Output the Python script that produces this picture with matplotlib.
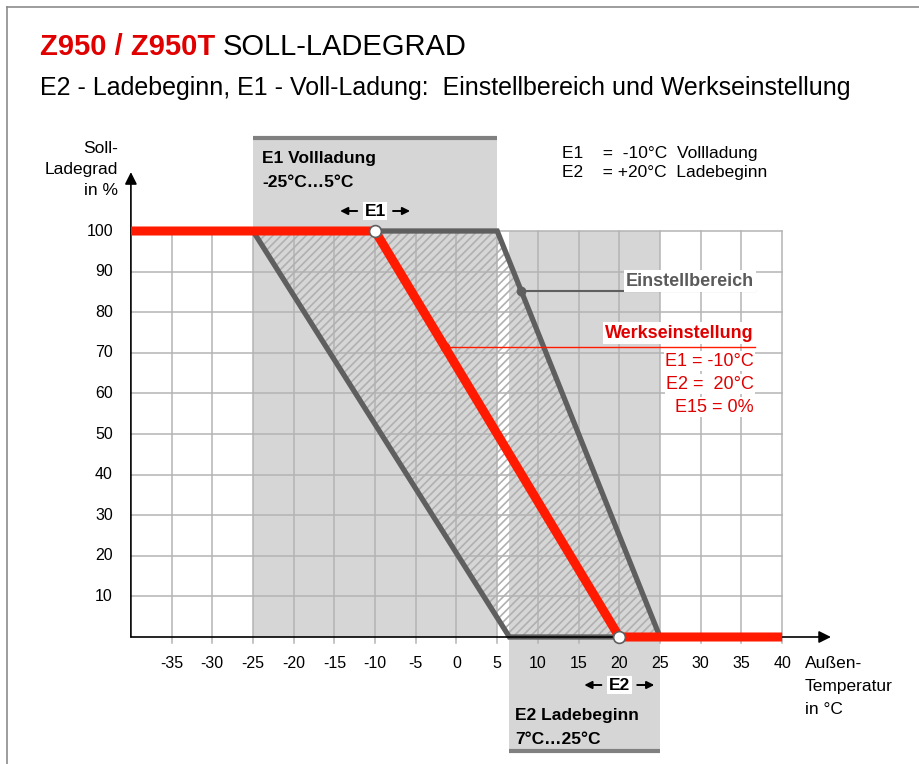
import matplotlib
matplotlib.use("Agg")
import matplotlib.pyplot as plt
from matplotlib.patches import Rectangle, Polygon

plt.rcParams['font.family'] = ['Liberation Sans', 'DejaVu Sans']
plt.rcParams['hatch.linewidth'] = 1.2

# ---- data ----
x_ticks = [-35, -30, -25, -20, -15, -10, -5, 0, 5, 10, 15, 20, 25, 30, 35, 40]
y_ticks = [10, 20, 30, 40, 50, 60, 70, 80, 90, 100]
werks_x = [-40, -10, 20, 40]
werks_y = [100, 100, 0, 0]
range_x = [-25, 5, 25, 6.5]
range_y = [100, 100, 0, 0]
e1_range = [-25, 5]
e2_range = [6.5, 25]
e1_set = -10
e2_set = 20
werks_dot_y = 71.4
einst_dot_y = 85.2

W, H = 920, 764
fig = plt.figure(figsize=(W / 100, H / 100), dpi=100)

# pixel mapping: px = 456.5 + 8.14*x ; py = 637 - 4.06*y
xmin, xmax = -40, 46
ymin, ymax = -31, 125
px0 = 456.5 + 8.14 * xmin
px1 = 456.5 + 8.14 * xmax
py_top = 637 - 4.06 * ymax
py_bot = 637 - 4.06 * ymin
ax = fig.add_axes([px0 / W, 1 - py_bot / H, (px1 - px0) / W, (py_bot - py_top) / H])
ax.set_xlim(xmin, xmax)
ax.set_ylim(ymin, ymax)
ax.axis('off')

GRAY_BG = '#d6d6d6'
DARK = '#5f5f5f'
RED = '#ff1a00'
TRED = '#e00000'
GRID = '#b4b4b4'
FS_TICK = 11.5
FS_LAB = 12.5
FS_B = 12.5

# frame lines of the slide
fig.add_artist(plt.Line2D([7 / W, 1], [1 - 7 / H, 1 - 7 / H], color='#8c8c8c', lw=1.2))
fig.add_artist(plt.Line2D([7 / W, 7 / W], [0, 1 - 7 / H], color='#8c8c8c', lw=1.2))

# gray setting bands
ax.add_patch(Rectangle((e1_range[0], 0), e1_range[1] - e1_range[0], 123, facecolor=GRAY_BG, edgecolor='none', zorder=0))
ax.add_patch(Rectangle((e2_range[0], -28), e2_range[1] - e2_range[0], 128, facecolor=GRAY_BG, edgecolor='none', zorder=0))
ax.plot(e1_range, [123, 123], color='#808080', lw=3, solid_capstyle='butt', zorder=1)
ax.plot(e2_range, [-28, -28], color='#808080', lw=3, solid_capstyle='butt', zorder=1)

# grid
for xv in x_ticks:
    ax.plot([xv, xv], [-1.5, 100], color=GRID, lw=1.1, zorder=1)
for yv in y_ticks:
    ax.plot([-42, 40], [yv, yv], color=GRID, lw=1.1, zorder=1)

# hatched setting range
ax.add_patch(Polygon(list(zip(range_x, range_y)), closed=True, facecolor='none',
                     edgecolor='#b0b0b0', hatch='////', lw=0, zorder=2))
ax.plot(range_x + [range_x[0]], range_y + [range_y[0]], color=DARK, lw=3.8,
        solid_joinstyle='miter', zorder=3)

# axes arrows
ax.annotate('', xy=(46, 0), xytext=(-40, 0),
            arrowprops=dict(arrowstyle='-|>', color='black', lw=1.2, mutation_scale=18,
                            shrinkA=0, shrinkB=0), zorder=4)
ax.annotate('', xy=(-40, 114.5), xytext=(-40, 0),
            arrowprops=dict(arrowstyle='-|>', color='black', lw=1.2, mutation_scale=18,
                            shrinkA=0, shrinkB=0), zorder=4)

# factory setting
ax.plot(werks_x, werks_y, color=RED, lw=6.5, solid_joinstyle='miter', solid_capstyle='butt', zorder=5)
ax.plot([e1_set, e2_set], [100, 0], 'o', ms=8.5, mfc='white', mec=DARK, mew=1.2, zorder=6)

# pointers
wx = e1_set + (100 - werks_dot_y) / 100 * (e2_set - e1_set)
ax.plot([wx, 36.7], [werks_dot_y, werks_dot_y], color=RED, lw=1.0, zorder=4)
ax.plot(wx, werks_dot_y, 'o', color=RED, ms=6, zorder=6)
gx = range_x[1] + (100 - einst_dot_y) / 100 * (range_x[2] - range_x[1])
ax.plot([gx, 36.7], [einst_dot_y, einst_dot_y], color=DARK, lw=1.5, zorder=4)
ax.plot(gx, einst_dot_y, 'o', color=DARK, ms=6, zorder=6)

# tick labels
for xv in x_ticks:
    ax.text(xv, -6.5, str(xv), ha='center', va='center', fontsize=FS_TICK)
for yv in y_ticks:
    ax.plot([-42, -40], [yv, yv], color=GRID, lw=1.1)
    ax.text(-42.2, yv, str(yv), ha='right', va='center', fontsize=FS_TICK)

def P(px, py):
    return (px - 456.5) / 8.14, (637 - py) / 4.06

# axis labels
for i, s in enumerate(['Soll-', 'Ladegrad', 'in %']):
    ax.text(*P(118, 148 + i * 21), s, ha='right', va='center', fontsize=FS_LAB, clip_on=False)
for i, s in enumerate(['Außen-', 'Temperatur', 'in °C']):
    ax.text(*P(805, 663 + i * 23), s, ha='left', va='center', fontsize=FS_LAB, clip_on=False)

# band annotations
ax.text(*P(262, 158), 'E1 Vollladung', ha='left', va='center', fontsize=FS_B, fontweight='bold')
ax.text(*P(262, 182), '-25°C…5°C', ha='left', va='center', fontsize=FS_B, fontweight='bold')
ax.text(*P(515, 715), 'E2 Ladebeginn', ha='left', va='center', fontsize=FS_B, fontweight='bold')
ax.text(*P(515, 739), '7°C…25°C', ha='left', va='center', fontsize=FS_B, fontweight='bold')

def range_arrow(cx, y, label):
    ax.text(cx, y, label, ha='center', va='center', fontsize=FS_B, fontweight='bold', zorder=7,
            bbox=dict(facecolor='white', edgecolor='none', pad=1.2))
    for sgn in (-1, 1):
        ax.annotate('', xy=(cx + sgn * 4.3, y), xytext=(cx + sgn * 2.2, y),
                    arrowprops=dict(arrowstyle='-|>', color='black', lw=1.4, mutation_scale=11,
                                    shrinkA=0, shrinkB=0))

range_arrow(e1_set, P(0, 211)[1], 'E1')
range_arrow(e2_set, P(0, 685)[1], 'E2')

# top-right legend text
ax.text(*P(562, 153), 'E1    =  -10°C  Vollladung', ha='left', va='center', fontsize=FS_LAB)
ax.text(*P(562, 172), 'E2    = +20°C  Ladebeginn', ha='left', va='center', fontsize=FS_LAB)

# right labels
ax.text(*P(754, 281), 'Einstellbereich', ha='right', va='center', fontsize=13,
        fontweight='bold', color='#5a5a5a', zorder=7,
        bbox=dict(facecolor='white', edgecolor='none', pad=1.5))
ax.text(*P(754, 333), 'Werkseinstellung', ha='right', va='center', fontsize=13,
        fontweight='bold', color=TRED, zorder=7,
        bbox=dict(facecolor='white', edgecolor='none', pad=1.5))
for i, s in enumerate(['E1 = -10°C', 'E2 =  20°C', 'E15 = 0%']):
    ax.text(*P(754, 361 + i * 23), s, ha='right', va='center', fontsize=13, color=TRED,
            zorder=7, bbox=dict(facecolor='white', edgecolor='none', pad=1.0))

# titles
t1 = fig.text(40 / W, 1 - 47 / H, 'Z950 / Z950T', ha='left', va='center', fontsize=21,
              fontweight='bold', color=TRED)
fig.canvas.draw()
bb = t1.get_window_extent(renderer=fig.canvas.get_renderer())
fig.text((bb.x1 + 7) / W, 1 - 47 / H, 'SOLL-LADEGRAD', ha='left', va='center', fontsize=21, color='black')
fig.text(40 / W, 1 - 88 / H, 'E2 - Ladebeginn, E1 - Voll-Ladung:  Einstellbereich und Werkseinstellung',
         ha='left', va='center', fontsize=18, color='black')

fig.savefig('out.png', dpi=100, facecolor='white')
